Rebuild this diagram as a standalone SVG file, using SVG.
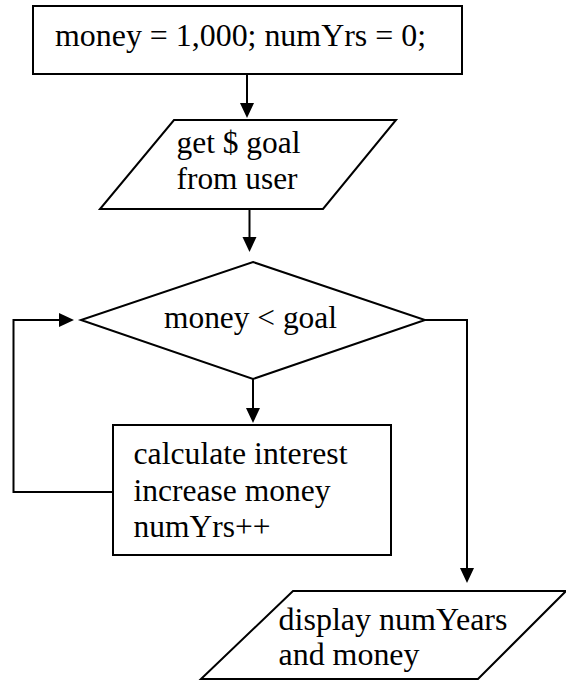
<svg xmlns="http://www.w3.org/2000/svg" width="566" height="681" viewBox="0 0 566 681">
<style>
.shape{fill:#fff;stroke:#000;stroke-width:2}
.conn{fill:none;stroke:#000;stroke-width:2}
text{font-size:31px;fill:#000}
</style>
<defs>
<marker id="arr" markerUnits="userSpaceOnUse" markerWidth="16" markerHeight="16" refX="10" refY="7" orient="auto" viewBox="0 0 16 16">
<path d="M0,0 L15,7 L0,14 z" fill="#000"/>
</marker>
</defs>
<rect width="566" height="681" fill="#fff"/>
<g font-family="Liberation Serif, Times New Roman, serif">
<g id="init">
<rect class="shape" x="33" y="6" width="429" height="68"/>
<text x="55" y="46" textLength="371" lengthAdjust="spacingAndGlyphs">money = 1,000; numYrs = 0;</text>
</g>
<g id="input">
<polygon class="shape" points="174,120 396,120 323,209 100,209"/>
<text x="176.5" y="153" textLength="124" lengthAdjust="spacingAndGlyphs">get $ goal</text>
<text x="176.5" y="189" textLength="121" lengthAdjust="spacingAndGlyphs">from user</text>
</g>
<g id="decision">
<polygon class="shape" points="253,262 425,320 253,379 81,320"/>
<text x="164" y="328" textLength="173" lengthAdjust="spacingAndGlyphs">money &lt; goal</text>
</g>
<g id="process">
<rect class="shape" x="113" y="425" width="278" height="130"/>
<text x="133.5" y="464" textLength="214" lengthAdjust="spacingAndGlyphs">calculate interest</text>
<text x="133.5" y="501" textLength="197" lengthAdjust="spacingAndGlyphs">increase money</text>
<text x="133.5" y="537" textLength="137" lengthAdjust="spacingAndGlyphs">numYrs++</text>
</g>
<g id="output">
<polygon class="shape" points="293,591 566,591 478,679 201,679"/>
<text x="278.5" y="630" textLength="229" lengthAdjust="spacingAndGlyphs">display numYears</text>
<text x="278.5" y="665" textLength="141" lengthAdjust="spacingAndGlyphs">and money</text>
</g>
</g>
<g id="connectors">
<path class="conn" d="M247,74 L247,113" marker-end="url(#arr)"/>
<path class="conn" d="M249.5,209 L249.5,247" marker-end="url(#arr)"/>
<path class="conn" d="M253,379 L253,418" marker-end="url(#arr)"/>
<path class="conn" d="M113,492 L13.5,492 L13.5,320 L69,320" marker-end="url(#arr)"/>
<path class="conn" d="M425,320 L467,320 L467,578" marker-end="url(#arr)"/>
</g>
</svg>
